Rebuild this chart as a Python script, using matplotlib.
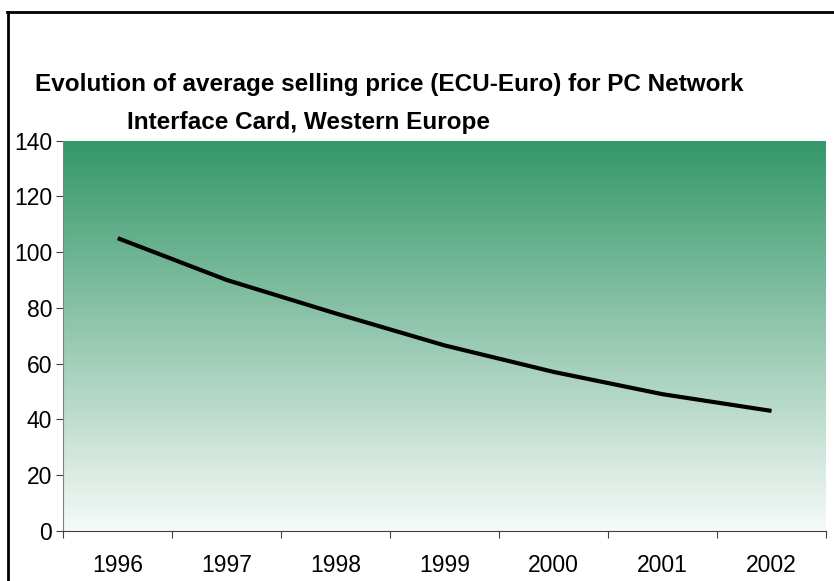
import numpy as np
import matplotlib.pyplot as plt
from matplotlib.colors import LinearSegmentedColormap
from matplotlib.lines import Line2D

years = ['1996', '1997', '1998', '1999', '2000', '2001', '2002']
price = [105, 90, 78, 66.5, 57, 49, 43]
yticks = [0, 20, 40, 60, 80, 100, 120, 140]

plt.rcParams['font.family'] = ['Liberation Sans', 'DejaVu Sans']

fig = plt.figure(figsize=(8.34, 5.81), dpi=100)
ax = fig.add_axes([63.3 / 834, 50.3 / 581, (826 - 63.3) / 834, 390 / 581])

n = len(years)
x = np.arange(n) + 0.5
ax.set_xlim(0, n)
ax.set_ylim(0, 140)

# green to white gradient background
cmap = LinearSegmentedColormap.from_list('g', ['#f6faf8', '#35976a'])
grad = np.linspace(0, 1, 256).reshape(-1, 1)
ax.imshow(grad, cmap=cmap, aspect='auto', extent=[0, n, 0, 140],
          origin='lower', zorder=0)

ax.plot(x, price, color='black', lw=3, solid_capstyle='butt', zorder=3)

ax.set_yticks(yticks)
ax.set_yticklabels([str(v) for v in yticks], fontsize=16.5)
ax.set_xticks(np.arange(n + 1))
ax.set_xticklabels([])
ax.set_xticks(x, minor=True)
ax.set_xticklabels(years, minor=True, fontsize=16.5)
ax.tick_params(axis='x', which='minor', length=0, pad=17)
ax.tick_params(axis='x', which='major', length=5, color='#404040')
ax.tick_params(axis='y', length=5, pad=3, color='#404040')

for s in ['top', 'right']:
    ax.spines[s].set_visible(False)
ax.spines['left'].set_color('#808080')
ax.spines['bottom'].set_color('#404040')

fig.text(35 / 834, 1 - 85 / 581, 'Evolution of average selling price (ECU-Euro) for PC Network',
         fontsize=17.5, fontweight='bold', va='center', ha='left')
fig.text(127 / 834, 1 - 123 / 581, 'Interface Card, Western Europe',
         fontsize=17.5, fontweight='bold', va='center', ha='left')

# outer border (left and top)
fig.add_artist(Line2D([8 / 834, 8 / 834], [0, 1 - 12 / 581], color='black', lw=2,
                      transform=fig.transFigure))
fig.add_artist(Line2D([7 / 834, 1], [1 - 12 / 581, 1 - 12 / 581], color='black', lw=2,
                      transform=fig.transFigure))

fig.savefig('out.png', dpi=100)
